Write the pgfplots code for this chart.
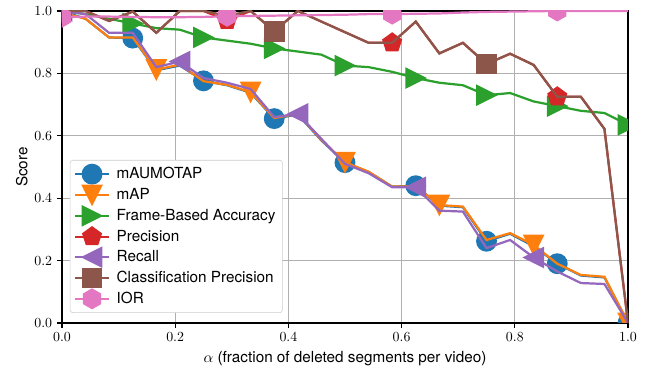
\documentclass[border=0pt]{standalone}
\usepackage{pgfplots}
\pgfplotsset{compat=1.18}
\usepackage{pgfplotstable}
\usepackage{fontspec}
\setmainfont{TeX Gyre Heros}
\usetikzlibrary{plotmarks}
\definecolor{c0}{HTML}{1F77B4}
\definecolor{c1}{HTML}{FF7F0E}
\definecolor{c2}{HTML}{2CA02C}
\definecolor{c3}{HTML}{D62728}
\definecolor{c4}{HTML}{9467BD}
\definecolor{c5}{HTML}{8C564B}
\definecolor{c6}{HTML}{E377C2}
\pgfdeclareplotmark{tridown}{%
  \pgfpathmoveto{\pgfqpoint{0pt}{-\pgfplotmarksize}}%
  \pgfpathlineto{\pgfqpoint{-\pgfplotmarksize}{\pgfplotmarksize}}%
  \pgfpathlineto{\pgfqpoint{\pgfplotmarksize}{\pgfplotmarksize}}%
  \pgfpathclose\pgfusepathqfillstroke}
\pgfdeclareplotmark{triright}{%
  \pgfpathmoveto{\pgfqpoint{\pgfplotmarksize}{0pt}}%
  \pgfpathlineto{\pgfqpoint{-\pgfplotmarksize}{\pgfplotmarksize}}%
  \pgfpathlineto{\pgfqpoint{-\pgfplotmarksize}{-\pgfplotmarksize}}%
  \pgfpathclose\pgfusepathqfillstroke}
\pgfdeclareplotmark{trileft}{%
  \pgfpathmoveto{\pgfqpoint{-\pgfplotmarksize}{0pt}}%
  \pgfpathlineto{\pgfqpoint{\pgfplotmarksize}{\pgfplotmarksize}}%
  \pgfpathlineto{\pgfqpoint{\pgfplotmarksize}{-\pgfplotmarksize}}%
  \pgfpathclose\pgfusepathqfillstroke}
\pgfdeclareplotmark{hexagon*}{%
  \pgfpathmoveto{\pgfqpointpolar{90}{\pgfplotmarksize}}%
  \pgfpathlineto{\pgfqpointpolar{150}{\pgfplotmarksize}}%
  \pgfpathlineto{\pgfqpointpolar{210}{\pgfplotmarksize}}%
  \pgfpathlineto{\pgfqpointpolar{270}{\pgfplotmarksize}}%
  \pgfpathlineto{\pgfqpointpolar{330}{\pgfplotmarksize}}%
  \pgfpathlineto{\pgfqpointpolar{30}{\pgfplotmarksize}}%
  \pgfpathclose\pgfusepathqfillstroke}

\pgfplotstableread{
x       mAU    mAP    FBA    Prec   Rec    CP     IOR
0       1.000  0.995  1.000  1.000  1.000  1.000  0.980
0.0417  0.975  0.975  0.990  1.000  0.990  1.000  0.982
0.0833  0.915  0.915  0.975  0.968  0.930  0.968  0.982
0.125   0.913  0.915  0.960  0.998  0.930  0.998  0.981
0.1667  0.810  0.812  0.945  0.930  0.820  0.930  0.980
0.2083  0.825  0.828  0.940  1.000  0.838  1.000  0.980
0.25    0.776  0.775  0.915  1.000  0.785  1.000  0.981
0.2917  0.762  0.763  0.905  0.970  0.770  0.985  0.983
0.3333  0.738  0.740  0.895  1.000  0.750  1.000  0.984
0.375   0.655  0.657  0.880  0.935  0.660  0.935  0.985
0.4167  0.668  0.670  0.870  1.000  0.670  1.000  0.986
0.4583  0.585  0.587  0.860  0.966  0.590  0.966  0.987
0.5     0.514  0.515  0.825  0.932  0.510  0.932  0.988
0.5417  0.484  0.485  0.820  0.898  0.480  0.898  0.990
0.5833  0.437  0.437  0.805  0.898  0.435  0.898  0.990
0.625   0.440  0.438  0.785  0.966  0.435  0.966  0.991
0.6667  0.376  0.378  0.770  0.864  0.360  0.864  0.992
0.7083  0.371  0.373  0.762  0.898  0.357  0.898  0.995
0.75    0.262  0.266  0.730  0.830  0.240  0.830  0.997
0.7917  0.286  0.288  0.737  0.863  0.266  0.863  0.998
0.8333  0.246  0.250  0.710  0.827  0.210  0.827  0.999
0.875   0.190  0.190  0.695  0.725  0.165  0.725  1.000
0.9167  0.152  0.154  0.680  0.725  0.128  0.725  1.000
0.9583  0.146  0.148  0.673  0.622  0.125  0.622  1.000
1       0.000  0.000  0.635  0.000  0.000  0.000  1.000
}\datatable

\tikzset{ln/.style={line width=1.6pt}}
\begin{document}
\begin{tikzpicture}
\begin{axis}[
  scale only axis,
  width=407.5pt, height=224.6pt,
  xmin=0, xmax=1, ymin=0, ymax=1,
  clip marker paths=true,
  xtick={0,0.2,0.4,0.6,0.8,1.0},
  ytick={0,0.2,0.4,0.6,0.8,1.0},
  xticklabel style={/pgf/number format/.cd,fixed,fixed zerofill,precision=1},
  yticklabel style={/pgf/number format/.cd,fixed,fixed zerofill,precision=1},
  tick label style={font=\fontsize{10}{12}\selectfont},
  label style={font=\fontsize{11}{13}\selectfont},
  grid=major,
  major grid style={draw=black!31, line width=0.8pt},
  axis line style={line width=0.8pt},
  tick align=outside,
  xtick pos=left, ytick pos=left,
  major tick length=3.5pt,
  tick style={draw=black, line width=0.8pt},
  xlabel={$\alpha$ (fraction of deleted segments per video)},
  ylabel={Score},
  ylabel style={yshift=-2pt},
  mark size=7pt,
  legend style={at={(0.014,0.032)}, anchor=south west,
    draw=black!20, rounded corners=2pt, fill=white,
    font=\fontsize{11}{13}\selectfont, inner sep=3pt,
    row sep=1.0pt,
    /tikz/every odd column/.append style={column sep=3pt}},
  legend cell align=left,
  legend image code/.code={\draw[mark repeat=2,mark phase=2] plot coordinates {(0cm,0cm)(0.42cm,0cm)(0.84cm,0cm)};},
]
\addplot[c0, ln, mark=*, mark repeat=3, mark phase=1, mark options={solid,line width=1pt}] table[x=x,y=mAU]{\datatable};
\addlegendentry{mAUMOTAP}
\addplot[c1, ln, mark=tridown, mark repeat=4, mark phase=1, mark options={solid,line width=1pt}] table[x=x,y=mAP]{\datatable};
\addlegendentry{mAP}
\addplot[c2, ln, mark=triright, mark repeat=3, mark phase=1, mark options={solid,line width=1pt}] table[x=x,y=FBA]{\datatable};
\addlegendentry{Frame-Based Accuracy}
\addplot[c3, ln, mark=pentagon*, mark repeat=7, mark phase=1, mark options={solid,line width=1pt}] table[x=x,y=Prec]{\datatable};
\addlegendentry{Precision}
\addplot[c4, ln, mark=trileft, mark repeat=5, mark phase=1, mark options={solid,line width=1pt}] table[x=x,y=Rec]{\datatable};
\addlegendentry{Recall}
\addplot[c5, ln, mark=square*, mark repeat=9, mark phase=1, mark options={solid,line width=1pt}] table[x=x,y=CP]{\datatable};
\addlegendentry{Classification Precision}
\addplot[c6, ln, mark=hexagon*, mark repeat=7, mark phase=1, mark options={solid,line width=1pt}] table[x=x,y=IOR]{\datatable};
\addlegendentry{IOR}
\end{axis}
\pgfresetboundingbox
\path[use as bounding box] ([shift={(-44.6pt,-36pt)}]current axis.south west) rectangle ([shift={(15.1pt,7.9pt)}]current axis.north east);
\end{tikzpicture}
\end{document}
